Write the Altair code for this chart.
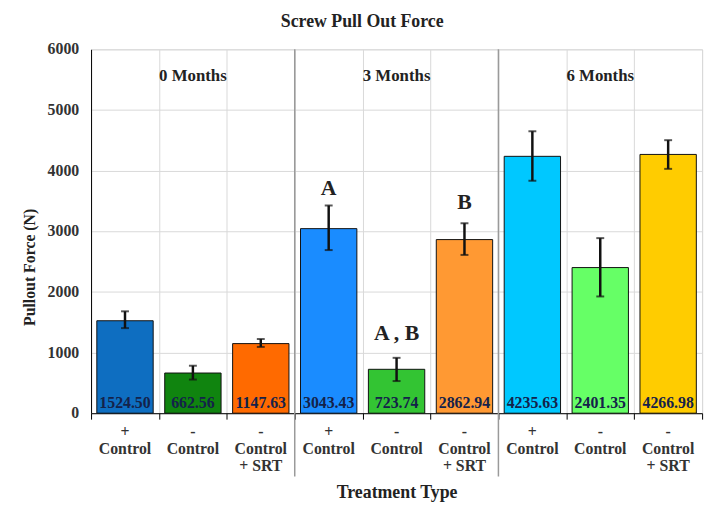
import altair as alt
import pandas as pd

groups = ["0 Months", "3 Months", "6 Months"]
signs = ["+", "-", "-", "+", "-", "-", "+", "-", "-"]
treat = ["Control", "Control", "Control|+ SRT"] * 3
group_of = ["0 Months"] * 3 + ["3 Months"] * 3 + ["6 Months"] * 3
means = [1524.50, 662.56, 1147.63, 3043.43, 723.74, 2862.94, 4235.63, 2401.35, 4266.98]
err_lo = [1403, 555, 1093, 2690, 530, 2610, 3833, 1925, 4029]
err_hi = [1680, 783, 1223, 3425, 913, 3132, 4649, 2887, 4502]
colors = ["#0E6EC1", "#10840F", "#FF6A00", "#1A8CFF", "#33C433",
          "#FF9933", "#00C8FF", "#66FF66", "#FFCC00"]
letters = ["", "", "", "A", "A , B", "B", "", "", ""]
letter_y = [0, 0, 0, 3717, 1321, 3489, 0, 0, 0]
y_ticks = [0, 1000, 2000, 3000, 4000, 5000, 6000]
group_label_y = 5560

keys = [f"{i}|{s}|{t}" for i, (s, t) in enumerate(zip(signs, treat))]
df = pd.DataFrame({
    "key": keys, "mean": means, "lo": err_lo, "hi": err_hi,
    "color": colors, "label": [f"{m:.2f}" for m in means],
    "letter": letters, "ly": letter_y, "group": group_of,
    "xlabel": [f"{s}|{t}" for s, t in zip(signs, treat)],
})

FONT = "Liberation Serif"
order = keys
H = 368

xenc = alt.X("key:N", sort=order, title="Treatment Type",
             scale=alt.Scale(paddingInner=0, paddingOuter=0),
             axis=alt.Axis(labels=False, tickBand="extent", tickSize=6,
                           grid=True, titleFontSize=18, titleFont=FONT,
                           titleFontWeight="bold", titleColor="#222222",
                           titleY=80, titleBaseline="middle"))

yscale = alt.Scale(domain=[0, 6000], nice=False)
yenc = alt.Y("mean:Q", scale=yscale, title="Pullout Force (N)",
             axis=alt.Axis(values=list(range(0, 6001, 500)), labels=False,
                           ticks=False, titleFontSize=16, titleFont=FONT,
                           titleFontWeight="bold", titleColor="#222222",
                           titleX=-62, titleY=220, titleAngle=-90,
                           titleAlign="center", titleBaseline="middle"))

base = alt.Chart(df)

bars = base.mark_bar(width=alt.RelativeBandSize(0.83), stroke="#111111",
                     strokeWidth=1).encode(
    x=xenc, y=yenc, color=alt.Color("color:N", scale=None))

rules = base.mark_rule(strokeWidth=2.5, color="#111111").encode(
    x=alt.X("key:N", sort=order), y=alt.Y("lo:Q", scale=yscale), y2="hi:Q")
cap_hi = base.mark_tick(size=8, thickness=2, color="#111111").encode(
    x=alt.X("key:N", sort=order), y=alt.Y("hi:Q", scale=yscale))
cap_lo = base.mark_tick(size=8, thickness=2, color="#111111").encode(
    x=alt.X("key:N", sort=order), y=alt.Y("lo:Q", scale=yscale))

vals = base.mark_text(font=FONT, fontSize=16, fontWeight="bold",
                      color="#14224a", baseline="bottom", dy=-2).encode(
    x=alt.X("key:N", sort=order), y=alt.datum(0), text="label:N")

xlabs = base.mark_text(font=FONT, fontSize=16, fontWeight="bold",
                       color="#333333", baseline="top", lineBreak="|",
                       lineHeight=17).encode(
    x=alt.X("key:N", sort=order), y=alt.value(H + 11), text="xlabel:N")

ydf = pd.DataFrame({"v": y_ticks, "t": [str(v) for v in y_ticks]})
ylabs = alt.Chart(ydf).mark_text(font=FONT, fontSize=16, fontWeight="bold",
                                 color="#333333", align="right",
                                 baseline="middle").encode(
    x=alt.value(-12), y=alt.Y("v:Q", scale=yscale), text="t:N")

lets = base.transform_filter("datum.letter != ''").mark_text(
    font=FONT, fontSize=22, fontWeight="bold", color="#222222",
    baseline="middle").encode(
    x=alt.X("key:N", sort=order), y=alt.Y("ly:Q", scale=yscale), text="letter:N")

gdf = pd.DataFrame({"group": groups, "key": [keys[1], keys[4], keys[7]],
                    "start": [keys[0], keys[3], keys[6]]})
glab = alt.Chart(gdf).mark_text(font=FONT, fontSize=17, fontWeight="bold",
                                color="#222222", baseline="middle").encode(
    x=alt.X("key:N", sort=order), y=alt.datum(group_label_y), text="group:N")

divs = alt.Chart(gdf.iloc[1:]).mark_rule(color="#9a9a9a", strokeWidth=1.5).encode(
    x=alt.X("start:N", sort=order, bandPosition=0),
    y=alt.value(0), y2=alt.value(432))

chart = alt.layer(bars, divs, rules, cap_hi, cap_lo, vals, xlabs, ylabs,
                  lets, glab).properties(
    width=618, height=H,
    title=alt.Title("Screw Pull Out Force", font=FONT, fontSize=18,
                    fontWeight="bold", color="#222222", anchor="middle",
                    frame="bounds", offset=11),
    autosize=alt.AutoSizeParams(type="none"),
    padding={"left": 84, "top": 39, "right": 9, "bottom": 87},
).configure_view(stroke=None).configure(background="white").configure_axis(
    domainColor="#000000", tickColor="#000000", gridColor="#d9d9d9",
)

chart.save("out.html", embed_options={"renderer": "svg", "actions": False})
